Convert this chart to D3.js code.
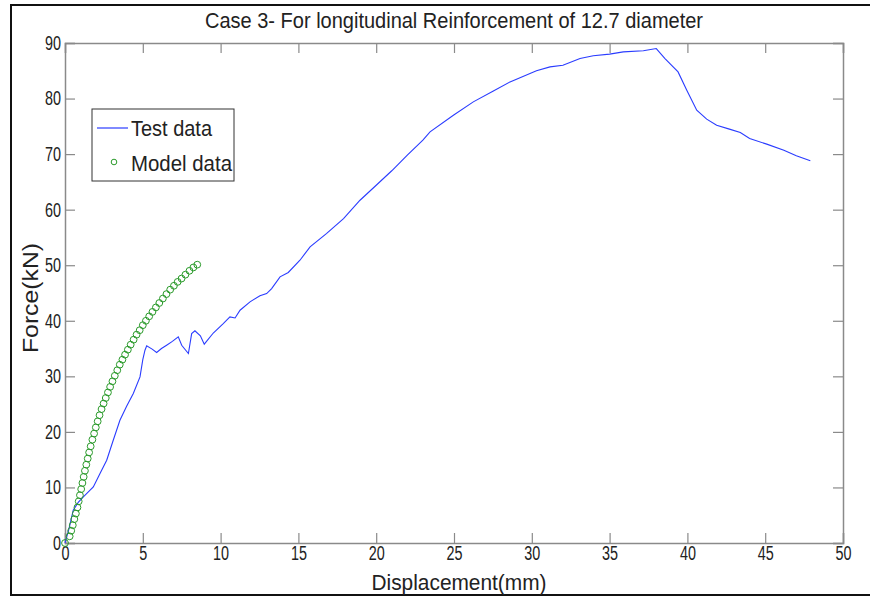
<!DOCTYPE html>
<html>
<head>
<meta charset="utf-8">
<script src="https://cdn.jsdelivr.net/npm/d3@7"></script>
<style>
  body { margin: 0; background: #fff; }
  text { font-family: "Liberation Sans", Arial, sans-serif; fill: #222; }
</style>
</head>
<body>
<svg id="chart"></svg>
<script>
// test curve (displacement mm, force kN)
const testX = [0, 0.25, 0.53, 0.85, 1.18, 1.5, 1.82, 2.25, 2.68, 3.1, 3.53, 3.96, 4.39, 4.82, 5.0, 5.14, 5.25,
  5.6, 5.89, 6.2, 6.53, 6.9, 7.28, 7.5, 7.93, 8.14, 8.35, 8.7, 8.95, 9.53, 10.17, 10.6, 10.93, 11.25, 11.89,
  12.53, 12.96, 13.28, 13.82, 14.35, 15.1, 15.75, 16.8, 17.9, 18.96, 20.0, 21.0, 22.0, 23.0, 23.46, 24.96,
  26.24, 27.5, 28.6, 30.3, 31.17, 32.0, 33.1, 33.95, 35.0, 35.88, 37.17, 38.0, 38.56, 39.4, 39.96, 40.6,
  41.24, 41.88, 42.7, 43.4, 44.0, 45.1, 46.2, 47.0, 47.9];
const testY = [0, 2.5, 5.9, 7.3, 8.3, 9.2, 10.1, 12.5, 14.9, 18.5, 22.1, 24.6, 26.9, 29.9, 33.0, 34.7, 35.5,
  34.9, 34.3, 35.0, 35.6, 36.3, 37.1, 35.6, 34.1, 37.7, 38.2, 37.3, 35.8, 37.8, 39.5, 40.7, 40.5, 41.9, 43.4,
  44.5, 44.9, 45.8, 47.9, 48.7, 50.9, 53.3, 55.7, 58.4, 61.7, 64.4, 67.0, 69.8, 72.5, 74.0, 77.0,
  79.4, 81.3, 83.0, 85.0, 85.7, 86.0, 87.2, 87.7, 88.0, 88.4, 88.6, 89.0, 87.2, 84.8, 81.5, 77.9,
  76.3, 75.2, 74.5, 73.9, 72.8, 71.8, 70.7, 69.7, 68.8];

// model points
const modelX = [0, 0.3, 0.4, 0.5, 0.6, 0.7, 0.8, 0.88, 0.96, 1.04, 1.12, 1.2, 1.28, 1.37, 1.46, 1.55, 1.65,
  1.76, 1.87, 1.98, 2.1, 2.22, 2.35, 2.48, 2.62, 2.76, 2.9, 3.05, 3.2, 3.36, 3.52, 3.69, 3.86, 4.04, 4.22,
  4.41, 4.6, 4.8, 5.0, 5.2, 5.41, 5.62, 5.84, 6.06, 6.29, 6.52, 6.76, 7.0, 7.24, 7.49, 7.74, 8.0, 8.25, 8.5];
const modelY = [0, 1.2, 2.2, 3.2, 4.3, 5.3, 6.4, 7.5, 8.6, 9.7, 10.8, 11.9, 13.0, 14.1, 15.2, 16.3, 17.4,
  18.6, 19.7, 20.8, 21.9, 23.0, 24.1, 25.1, 26.1, 27.1, 28.1, 29.1, 30.1, 31.1, 32.1, 33.0, 33.9, 34.8, 35.7,
  36.6, 37.5, 38.3, 39.2, 40.0, 40.8, 41.6, 42.4, 43.2, 44.0, 44.8, 45.6, 46.3, 47.0, 47.6, 48.3, 49.0, 49.6, 50.1];

const xTicks = [0, 5, 10, 15, 20, 25, 30, 35, 40, 45, 50];
const yTicks = [0, 10, 20, 30, 40, 50, 60, 70, 80, 90];
const seriesNames = ["Test data", "Model data"];

const W = 870, H = 599;
const margin = { top: 43, right: 27, bottom: 56, left: 65 },
      width = W - margin.left - margin.right,
      height = H - margin.top - margin.bottom;

const svg = d3.select("#chart").attr("width", W).attr("height", H);

// outer frame
svg.append("rect")
   .attr("x", 11).attr("y", 5).attr("width", 870).attr("height", 590)
   .attr("fill", "none").attr("stroke", "#111").attr("stroke-width", 2);

const g = svg.append("g").attr("transform", `translate(${margin.left},${margin.top})`);

const x = d3.scaleLinear().domain([0, 50]).range([0, width]);
const y = d3.scaleLinear().domain([0, 90]).range([height, 0]);

const tk = 10;
const axisColor = "#8a8a8a";

// bottom axis, ticks pointing in
const xAxis = g.append("g")
   .attr("transform", `translate(0,${height})`)
   .call(d3.axisBottom(x).tickValues(xTicks).tickSize(-tk).tickPadding(3).tickFormat(d3.format("d")));
// left axis
const yAxis = g.append("g")
   .call(d3.axisLeft(y).tickValues(yTicks).tickSize(-tk).tickPadding(4).tickFormat(d3.format("d")));
// top + right, no labels
const xTop = g.append("g")
   .call(d3.axisTop(x).tickValues(xTicks).tickSize(-tk).tickFormat(""));
const yRight = g.append("g")
   .attr("transform", `translate(${width},0)`)
   .call(d3.axisRight(y).tickValues(yTicks).tickSize(-tk).tickFormat(""));

[xAxis, yAxis, xTop, yRight].forEach(a => {
  a.select(".domain").attr("stroke", axisColor).attr("stroke-width", 1.5);
  a.selectAll(".tick line").attr("stroke", axisColor).attr("stroke-width", 1.2);
  a.selectAll(".tick text")
   .attr("fill", "#222")
   .style("font-size", "20px")
   .attr("lengthAdjust", "spacingAndGlyphs")
   .attr("textLength", function () { return this.textContent.length * 8; });
});

// test line
const testData = testX.map((d, i) => ({ x: d, y: testY[i] }));
g.append("path")
 .datum(testData)
 .attr("fill", "none")
 .attr("stroke", "#2a3cff")
 .attr("stroke-width", 1.1)
 .attr("d", d3.line().x(d => x(d.x)).y(d => y(d.y)));

// model circles
const modelData = modelX.map((d, i) => ({ x: d, y: modelY[i] }));
g.selectAll(".pt")
 .data(modelData)
 .enter().append("circle")
 .attr("class", "pt")
 .attr("cx", d => x(d.x))
 .attr("cy", d => y(d.y))
 .attr("r", 3.4)
 .attr("fill", "none")
 .attr("stroke", "#2a9a2a")
 .attr("stroke-width", 1);

// title and axis labels
svg.append("text")
   .attr("x", 454).attr("y", 28)
   .attr("text-anchor", "middle")
   .style("font-size", "22px")
   .attr("lengthAdjust", "spacingAndGlyphs")
   .attr("textLength", 498)
   .text("Case 3- For longitudinal Reinforcement of 12.7 diameter");

svg.append("text")
   .attr("x", 459).attr("y", 590)
   .attr("text-anchor", "middle")
   .style("font-size", "22px")
   .attr("lengthAdjust", "spacingAndGlyphs")
   .attr("textLength", 175)
   .text("Displacement(mm)");

svg.append("text")
   .attr("transform", `translate(38,298) rotate(-90)`)
   .attr("text-anchor", "middle")
   .style("font-size", "22px")
   .attr("lengthAdjust", "spacingAndGlyphs")
   .attr("textLength", 110)
   .text("Force(kN)");

// legend
const lg = svg.append("g");
lg.append("rect")
  .attr("x", 92).attr("y", 109).attr("width", 142).attr("height", 72)
  .attr("fill", "#fff").attr("stroke", "#333").attr("stroke-width", 1);
lg.append("line")
  .attr("x1", 97).attr("x2", 128).attr("y1", 128).attr("y2", 128)
  .attr("stroke", "#2a3cff").attr("stroke-width", 1.2);
lg.append("circle")
  .attr("cx", 114).attr("cy", 162).attr("r", 2.8)
  .attr("fill", "none").attr("stroke", "#2a9a2a");
lg.selectAll(".lt")
  .data(seriesNames)
  .enter().append("text")
  .attr("x", 131)
  .attr("y", (d, i) => 136 + i * 35)
  .style("font-size", "22px")
  .attr("lengthAdjust", "spacingAndGlyphs")
  .attr("textLength", (d, i) => [81, 101][i])
  .text(d => d);
</script>
</body>
</html>
